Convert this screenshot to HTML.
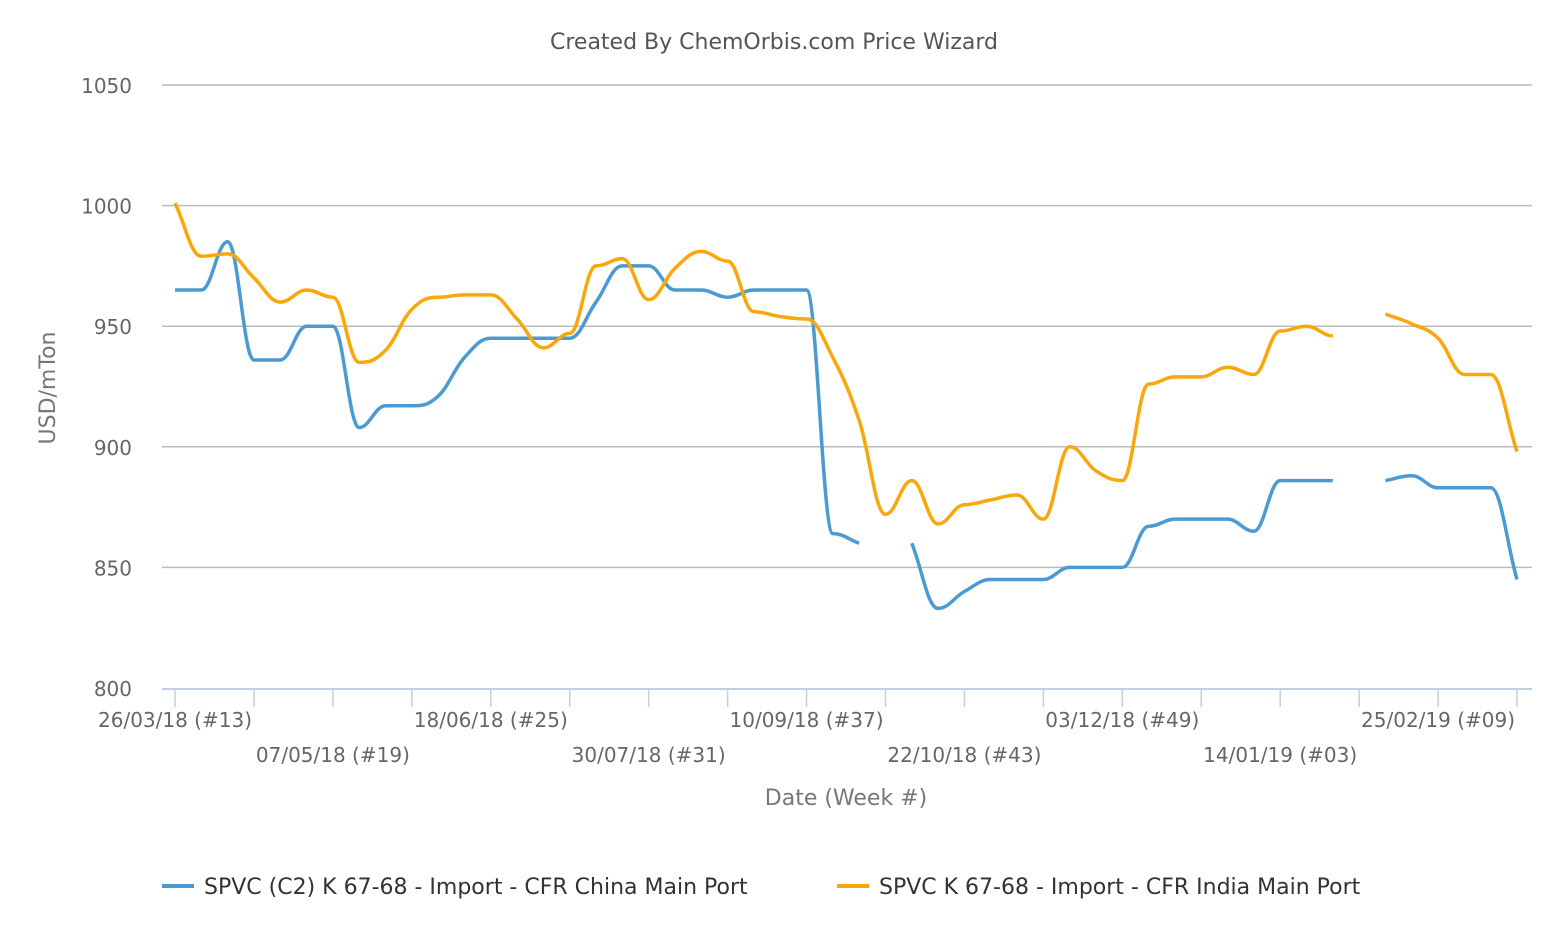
<!DOCTYPE html>
<html><head><meta charset="utf-8"><style>
body{margin:0;background:#fff;font-family:"DejaVu Sans","Liberation Sans",sans-serif}
svg text{font-family:"DejaVu Sans","Liberation Sans",sans-serif}
</style></head><body>
<svg id="chart" width="1552" height="930" xmlns="http://www.w3.org/2000/svg">
<rect width="1552" height="930" fill="#fff"/>
<text x="774" y="49" text-anchor="middle" font-size="22" fill="#555">Created By ChemOrbis.com Price Wizard</text>
<g id="grid"></g><g id="yticks"></g><g id="xaxis"></g><g id="series"></g>
<text transform="translate(55,388) rotate(-90)" text-anchor="middle" font-size="22" fill="#777">USD/mTon</text>
<text x="846" y="805" text-anchor="middle" font-size="22" fill="#777">Date (Week #)</text>
<g>
<g><line x1="162" y1="886" x2="194" y2="886" stroke="#4b9bd1" stroke-width="4"/><text x="204" y="894" font-size="22" fill="#333">SPVC (C2) K 67-68 - Import - CFR China Main Port</text></g>
<g><line x1="837" y1="886" x2="869" y2="886" stroke="#f9a70a" stroke-width="4"/><text x="879" y="894" font-size="22" fill="#333">SPVC K 67-68 - Import - CFR India Main Port</text></g>
</g>
</svg>
<script>
const china=[965,965,985,936,936,950,950,908,917,917,921,937,945,945,945,945,960,975,975,965,965,962,965,965,965,864,860,null,860,833,840,845,845,845,850,850,850,867,870,870,870,865,886,886,886,null,886,888,883,883,883,845];
const india=[1001,979,980,970,960,965,962,935,940,957,962,963,963,953,941,947,975,978,961,974,981,977,956,954,953,937,911,872,886,868,876,878,880,870,900,890,886,926,929,929,933,930,948,950,946,null,955,951,945,930,930,898];
const yTicks=[800,850,900,950,1000,1050];
const xLabelsRow1=[[0,"26/03/18 (#13)"],[12,"18/06/18 (#25)"],[24,"10/09/18 (#37)"],[36,"03/12/18 (#49)"],[48,"25/02/19 (#09)"]];
const xLabelsRow2=[[6,"07/05/18 (#19)"],[18,"30/07/18 (#31)"],[30,"22/10/18 (#43)"],[42,"14/01/19 (#03)"]];
const NS="http://www.w3.org/2000/svg";
const X=i=>175+i*(1517-175)/51;
const Y=v=>688-(v-800)*(688-85)/250;
function mk(t,a,p){const e=document.createElementNS(NS,t);for(const k in a)e.setAttribute(k,a[k]);p.appendChild(e);return e;}
const grid=document.getElementById('grid'),yt=document.getElementById('yticks'),xa=document.getElementById('xaxis'),sg=document.getElementById('series');
yTicks.forEach(v=>{
 if(v>800){const l=mk('line',{x1:162,x2:1532,y1:Y(v),y2:Y(v),stroke:'#bbb','stroke-width':1.5},grid);
 
 }
 const t=mk('text',{x:132,y:Y(v)+8,'text-anchor':'end','font-size':20,fill:'#666'},yt);t.textContent=v;
 
 
});
const ax=mk('line',{x1:162,x2:1532,y1:689,y2:689,stroke:'#c0d0e0','stroke-width':2},xa);


for(let i=0;i<=51;i+=3){const tk=mk('line',{x1:X(i),x2:X(i),y1:689,y2:707,stroke:'#c0d0e0','stroke-width':1.5},xa);
 
 }
[[xLabelsRow1,727],[xLabelsRow2,762]].forEach(([arr,y])=>arr.forEach(([i,s])=>{
 const t=mk('text',{x:X(i),y:y,'text-anchor':'middle','font-size':20,fill:'#666'},xa);t.textContent=s;
 
 
}));
function path(data){
 let segs=[],cur=[];
 data.forEach((v,i)=>{if(v==null){if(cur.length)segs.push(cur);cur=[];}else cur.push([X(i),Y(v)]);});
 if(cur.length)segs.push(cur);
 let d='';const s=1.5;
 segs.forEach(p=>{
  d+='M'+p[0][0]+','+p[0][1];
  for(let i=1;i<p.length;i++){
   const a=p[i-1],b=p[i],pa=p[i-2]||a,nb=p[i+1]||b;
   // Highcharts-like control points
   const c1=ctrl(pa,a,b,false),c2=ctrl(a,b,nb,true);
   d+=' C'+c1[0]+','+c1[1]+' '+c2[0]+','+c2[1]+' '+b[0]+','+b[1];
  }
 });
 return d;
}
function ctrl(p,c,n,left){
 const sm=1.5,den=sm+1;
 let lx=(sm*c[0]+p[0])/den,ly=(sm*c[1]+p[1])/den,rx=(sm*c[0]+n[0])/den,ry=(sm*c[1]+n[1])/den;
 if(rx!==lx){const cor=((ry-ly)*(rx-c[0]))/(rx-lx)+c[1]-ry;ly+=cor;ry+=cor;
  if(ly>Math.max(p[1],c[1])||ly<Math.min(p[1],c[1])){ly=c[1];ry=c[1];}
  if(ry>Math.max(n[1],c[1])||ry<Math.min(n[1],c[1])){ry=c[1];ly=c[1];}}
 if(p===c){lx=c[0];ly=c[1];} if(n===c){rx=c[0];ry=c[1];}
 return left?[lx,ly]:[rx,ry];
}
const pc=mk('path',{d:path(china),fill:'none',stroke:'#4b9bd1','stroke-width':3.5,'stroke-linejoin':'round'},sg);


const pi=mk('path',{d:path(india),fill:'none',stroke:'#f9a70a','stroke-width':3.5,'stroke-linejoin':'round'},sg);


</script>
</body></html>
